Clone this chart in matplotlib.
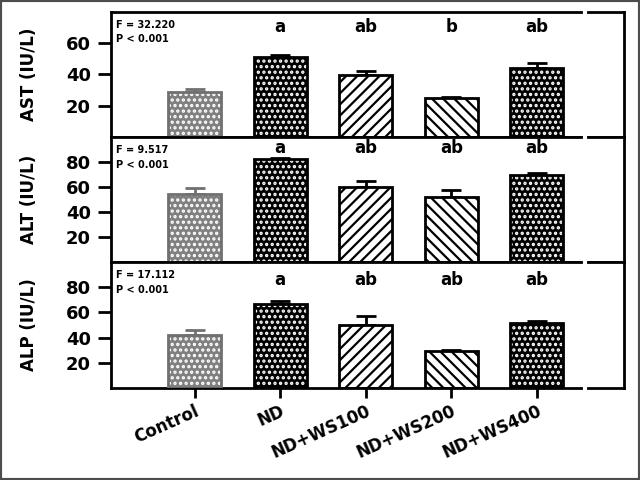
import matplotlib
matplotlib.use('Agg')
import matplotlib.pyplot as plt
from matplotlib.patches import Rectangle
from matplotlib.lines import Line2D

plt.rcParams['font.family'] = ['DejaVu Sans']
plt.rcParams['font.weight'] = 'bold'
plt.rcParams['axes.labelweight'] = 'bold'
plt.rcParams['hatch.linewidth'] = 1.6

groups = ['Control', 'ND', 'ND+WS100', 'ND+WS200', 'ND+WS400']
ast_mean = [28.8, 51.2, 39.7, 24.8, 44.0]
ast_err = [1.7, 1.3, 2.7, 1.0, 3.6]
alt_mean = [54.2, 82.1, 59.7, 51.7, 69.6]
alt_err = [4.8, 1.0, 5.1, 5.9, 1.8]
alp_mean = [42.4, 67.0, 49.9, 29.0, 51.7]
alp_err = [4.0, 2.0, 7.2, 1.4, 1.3]
ast_letters = ['', 'a', 'ab', 'b', 'ab']
alt_letters = ['', 'a', 'ab', 'ab', 'ab']
alp_letters = ['', 'a', 'ab', 'ab', 'ab']
f_texts = ['F = 32.220', 'F = 9.517', 'F = 17.112']
p_texts = ['P < 0.001', 'P < 0.001', 'P < 0.001']
ylabels = ['AST (IU/L)', 'ALT (IU/L)', 'ALP (IU/L)']
ytop = [80, 100, 100]
yticks = [[20, 40, 60], [20, 40, 60, 80], [20, 40, 60, 80]]
letter_y = [70.4, 91, 85.6]

means = [ast_mean, alt_mean, alp_mean]
errs = [ast_err, alt_err, alp_err]
letters = [ast_letters, alt_letters, alp_letters]

faces = ['#808080', 'black', 'white', 'white', 'black']
hatches = ['...', '...', '///', '\\\\\\', '...']
hatch_cols = ['white', 'white', 'black', 'black', 'white']
outlines = ['#707070', 'black', 'black', 'black', 'black']

fig = plt.figure(figsize=(6.4, 4.8), dpi=100)
W, H = 640.0, 480.0
left = 111 / W
right = 624 / W
bounds = [(12, 137), (137, 262), (262, 388)]
x = list(range(len(groups)))
bw = 0.62

for i in range(3):
    top_px, bot_px = bounds[i]
    ax = fig.add_axes([left, 1 - bot_px / H, right - left, (bot_px - top_px) / H])
    for j in x:
        ax.bar(j, means[i][j], bw, color=faces[j], edgecolor=hatch_cols[j],
               hatch=hatches[j], linewidth=0, zorder=2)
        ax.bar(j, means[i][j], bw, fill=False, edgecolor=outlines[j],
               linewidth=2, zorder=3)
        ax.errorbar(j, means[i][j], yerr=[[0], [errs[i][j]]], fmt='none',
                    ecolor=outlines[j], capsize=7, elinewidth=2, capthick=2, zorder=1)
        if letters[i][j]:
            ax.text(j, letter_y[i], letters[i][j], ha='center', va='center',
                    fontsize=12, fontweight='bold')
    ax.set_xlim(-0.98, 5.02)
    ax.set_ylim(0, ytop[i])
    ax.set_yticks(yticks[i])
    ax.tick_params(axis='y', direction='out', length=9.5, width=2, labelsize=13, pad=5)
    for s in ax.spines.values():
        s.set_linewidth(2)
    ax.set_ylabel(ylabels[i], fontsize=12)
    ax.yaxis.set_label_coords(-0.142, 0.5)
    ax.text(0.01, 0.895, f_texts[i], transform=ax.transAxes, fontsize=7,
            fontweight='bold', va='center', ha='left')
    ax.text(0.01, 0.78, p_texts[i], transform=ax.transAxes, fontsize=7,
            fontweight='bold', va='center', ha='left')
    if i < 2:
        ax.set_xticks([])
    else:
        ax.set_xticks(x)
        ax.set_xticklabels(groups, rotation=24, ha='right', va='top',
                           rotation_mode='anchor', fontsize=12)
        ax.tick_params(axis='x', direction='out', length=7, width=2, pad=3)

fig.add_artist(Line2D([585 / W, 585 / W], [1 - 6 / H, 1 - 394 / H], color='white',
                      lw=3, transform=fig.transFigure, zorder=20))
fig.add_artist(Rectangle((0, 0), 1, 1, transform=fig.transFigure, fill=False,
                         edgecolor='#4d4d4d', lw=3, zorder=30))

fig.savefig('out.png', dpi=100)
